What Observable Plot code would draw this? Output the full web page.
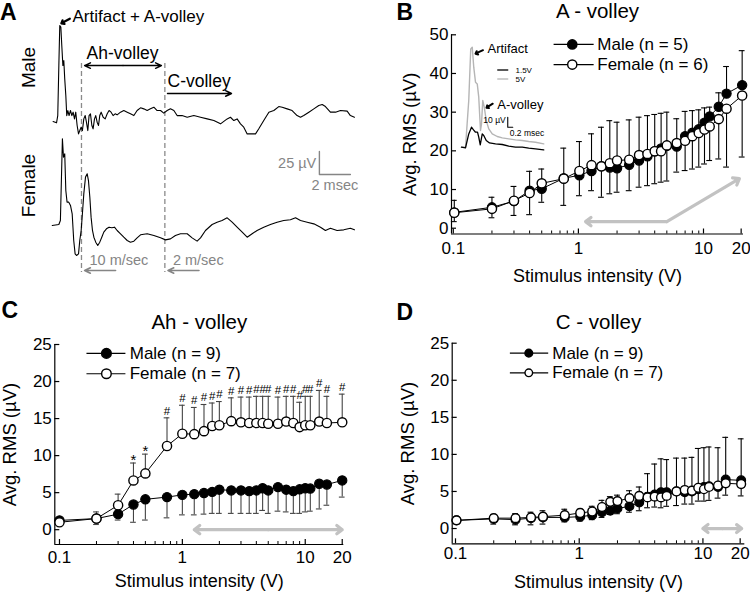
<!DOCTYPE html>
<html><head><meta charset="utf-8">
<script src="https://cdn.jsdelivr.net/npm/d3@7"></script>
<script src="https://cdn.jsdelivr.net/npm/@observablehq/plot@0.6"></script>
<style>
body{margin:0;background:#fff;}
#fig{position:relative;width:750px;height:592px;overflow:hidden;background:#fff;}
</style></head>
<body><div id="fig"></div>
<script>
// ---------------- DATA ----------------
const intensity = [0.1,0.2,0.3,0.4,0.5,0.75,1,1.25,1.5,1.75,2,2.5,3,3.5,4,4.5,5,6,7,8,9,10,11,13,15,20];
const xMajorTicks = [0.1, 1, 10, 20];
const xMinorTicks = [0.2,0.3,0.4,0.5,0.6,0.7,0.8,0.9,2,3,4,5,6,7,8,9];
const yTicksA = [0,10,20,30,40,50];
const yTicksAhC = [0,5,10,15,20,25];

// B: A-volley
const aMale     = [4.1,5.4,7.0,9.7,10.2,12.9,13.7,14.8,16.0,15.7,15.5,16.4,17.5,18.6,19.9,20.6,21.3,21.1,23.8,24.7,25.6,27.3,28.9,31.4,34.8,37.0];
const aMaleSD   = [3.1,2.6,3.8,5.0,5.1,7.8,8.7,9.6,10.1,12.1,11.9,11.6,11.2,10.5,9.5,9.1,8.7,7.2,6.4,5.7,5.0,3.8,2.4,3.6,7.0,8.9];
const aFemale   = [4.0,5.0,7.1,9.1,11.6,12.8,14.8,16.3,16.0,16.8,17.5,17.7,18.9,19.2,19.9,19.9,21.4,22.0,22.6,23.8,24.6,25.5,26.3,28.2,30.9,34.3];
const aFemaleSD = [2.3,2.3,3.8,5.6,4.9,6.9,6.4,6.6,8.0,7.9,8.2,8.0,8.3,8.2,8.4,8.0,9.2,7.5,7.7,8.5,8.8,8.9,8.8,10.3,15.1,15.9];

// C: Ah-volley
const ahMale     = [1.25,1.5,2.1,3.4,4.1,4.4,4.7,4.8,4.95,5.1,5.4,5.3,5.3,5.2,5.3,5.6,5.3,5.75,5.4,5.2,5.45,5.6,5.55,6.2,6.1,6.65];
const ahMaleSD   = [0.35,0.8,0.8,2.4,2.8,2.8,2.7,2.8,2.85,2.9,3.2,3.1,3.1,3.0,3.1,3.0,3.1,3.25,3.0,3.0,3.25,3.2,3.05,3.4,2.8,2.25];
const ahFemale   = [1.0,1.5,3.3,6.65,7.6,11.3,12.95,12.9,13.3,14.0,14.1,14.65,14.5,14.4,14.4,14.4,14.3,14.3,14.6,14.4,13.85,14.1,14.1,14.6,14.4,14.5];
const ahFemaleSD = [0.4,0.9,1.5,2.35,2.6,3.8,3.85,3.6,3.6,3.1,3.2,3.15,3.4,3.5,3.6,3.6,3.7,3.6,3.4,3.6,3.35,3.9,3.9,4.2,3.6,3.8];
const ahSignif   = ["","","","*","*","#","#","#","#","#","#","#","#","#","#","#","#","#","#","#","#","#","#","#","#","#"];

// D: C-volley
const cMale     = [1.1,1.3,1.2,1.4,1.5,1.5,1.6,1.8,2.2,2.4,2.7,3.0,3.5,4.3,4.6,4.9,4.9,5.0,4.9,5.0,5.3,5.6,5.7,5.6,6.6,6.5];
const cMaleSD   = [0.2,0.6,0.8,0.8,0.9,1.1,1.0,1.2,1.6,1.9,1.8,2.1,2.1,3.1,4.1,4.5,4.4,4.5,4.6,4.6,5.5,5.3,5.3,5.3,5.7,5.6];
const cFemale   = [1.1,1.4,1.4,1.5,1.6,1.8,2.1,2.3,2.9,3.6,3.7,4.1,4.4,4.2,4.3,4.2,4.4,5.0,5.2,5.1,5.5,5.3,5.6,5.8,6.1,6.0];
const cFemaleSD = [0.2,0.8,0.9,1.0,1.0,0.9,1.1,1.1,1.4,1.7,1.7,1.9,2.0,1.4,1.4,1.4,1.4,1.9,1.9,1.8,1.8,1.6,1.8,1.7,1.6,1.6];

// A: compound action potential traces [time (ms), voltage (µV)]
const maleTrace = [[0.02,0.7],[0.24,-0.7],[0.32,7.2],[0.39,61.6],[0.45,105.1],[0.52,103.3],[0.58,83.3],[0.65,61.6],[0.71,67.0],[0.77,47.1],[0.84,29.0],[0.90,7.2],[0.97,12.7],[1.05,7.2],[1.14,12.7],[1.23,7.2],[1.31,10.9],[1.40,3.6],[1.48,10.9],[1.57,-3.6],[1.66,-12.7],[1.74,-9.1],[1.83,-5.4],[1.91,-9.1],[2.00,3.6],[2.09,7.2],[2.17,0],[2.26,-9.1],[2.34,7.2],[2.43,9.1],[2.52,-3.6],[2.60,-7.2],[2.69,3.6],[2.77,7.2],[2.86,0],[2.95,-3.6],[3.03,7.2],[3.12,10.9],[3.25,5.4],[3.38,3.6],[3.51,9.1],[3.63,12.7],[3.76,10.9],[3.89,7.2],[4.02,9.1],[4.15,8.0],[4.37,10.9],[4.58,12.7],[4.80,10.9],[5.01,9.1],[5.23,7.2],[5.44,12.7],[5.66,15.6],[5.87,14.5],[6.09,12.7],[6.30,14.5],[6.52,16.3],[6.73,12.7],[6.95,12.7],[7.16,9.8],[7.38,12.7],[7.59,14.5],[7.81,12.7],[8.02,7.2],[8.34,7.2],[8.67,5.4],[9.10,7.2],[9.53,5.4],[9.96,3.6],[10.39,1.8],[10.82,-1.8],[11.25,3.6],[11.46,5.4],[11.68,1.8],[11.89,3.6],[12.11,-1.8],[12.32,-5.4],[12.54,-12.7],[12.86,-12.7],[13.08,-12.7],[13.29,-7.2],[13.61,1.8],[13.94,10.9],[14.26,12.7],[14.58,17.0],[14.80,16.3],[15.12,14.5],[15.44,12.7],[15.76,7.2],[15.98,5.4],[16.19,7.2],[16.52,10.9],[16.84,14.5],[17.16,18.1],[17.38,19.2],[17.59,17.0],[17.91,10.9],[18.24,10.9],[18.56,12.7],[18.99,12.0],[19.20,7.2],[19.46,5.4]];
const femaleTrace = [[-0.04,0.7],[0.39,1.8],[0.49,6.2],[0.62,94.9],[0.69,75.0],[0.77,78.6],[0.84,38.8],[0.92,26.1],[1.03,26.1],[1.14,22.5],[1.25,13.4],[1.35,-15.6],[1.44,-30.1],[1.53,-31.9],[1.66,-30.1],[1.74,-15.6],[1.83,-4.7],[1.91,13.4],[2.00,35.1],[2.11,53.3],[2.22,56.9],[2.30,49.6],[2.39,31.5],[2.47,9.8],[2.56,-4.7],[2.65,-12.0],[2.77,-17.4],[2.90,-21.0],[3.03,-17.4],[3.16,-12.0],[3.29,-6.5],[3.46,-2.9],[3.63,-1.1],[3.81,-1.8],[3.98,-1.1],[4.15,-4.7],[4.37,-8.3],[4.58,-12.0],[4.80,-15.6],[5.01,-17.4],[5.23,-16.3],[5.44,-12.7],[5.66,-9.4],[6.09,-8.3],[6.52,-10.1],[6.95,-12.7],[7.27,-14.9],[7.59,-13.8],[7.91,-10.1],[8.24,-8.3],[8.67,-8.3],[8.99,-12.7],[9.31,-16.3],[9.53,-12.7],[9.85,-4.7],[10.28,1.8],[10.60,4.3],[10.92,6.2],[11.25,9.1],[11.57,4.3],[11.89,-1.1],[12.22,-6.5],[12.54,-12.0],[12.86,-8.3],[13.18,-4.7],[13.61,-1.1],[14.04,1.8],[14.47,4.3],[14.90,6.2],[15.33,6.9],[15.66,9.1],[15.98,6.2],[16.41,4.3],[16.84,2.5],[17.27,-1.1],[17.59,-4.7],[17.91,-2.2],[18.34,-4.7],[18.77,-4.0],[19.20,-2.2],[19.46,-4.0]];
const cutoffs = [{t: 1.85, label: "10 m/sec"}, {t: 7.23, label: "2 m/sec"}];

// B inset traces [time (ms), voltage (µV)]
const inset5V = [[0,0],[0.16,0],[0.29,46.7],[0.37,98.3],[0.43,100],[0.49,80],[0.56,65],[0.63,63.3],[0.69,50],[0.76,16.7],[0.80,23.3],[0.85,46.7],[0.91,40],[0.99,26.7],[1.09,18.3],[1.23,13.3],[1.43,10.7],[1.63,9.3],[1.89,8.3],[2.16,7.3],[2.43,6.7],[2.69,5.7],[2.96,5],[3.29,3.3]];
const inset15V = [[0,0],[0.16,-0.7],[0.29,13.3],[0.40,20],[0.48,17.3],[0.56,15],[0.64,15],[0.69,10],[0.75,2.3],[0.83,13.3],[0.89,11.7],[0.99,6.7],[1.12,4.3],[1.36,3.3],[1.63,2.7],[1.89,1],[2.16,0],[2.43,0],[2.69,-1],[2.96,-1.7],[3.29,-2.7]];

// ---------------- DRAWING ----------------
const fontFamily = '"Liberation Sans", Arial, Helvetica, sans-serif';
const fig = document.getElementById("fig");
function place(node, left, top) {
  node.style.position = "absolute";
  node.style.left = left + "px";
  node.style.top = top + "px";
  fig.appendChild(node);
}
const GRAY = "#858585";

// Panel A
const femaleShift = -113;
const panelA = Plot.plot({
  width: 375, height: 290, margin: 0,
  x: {domain: [0, 20], range: [52.3, 362.3], axis: null},
  y: {domain: [0, 100], range: [121.7, 29.7], axis: null},
  style: {fontFamily, fontSize: "17px", background: "transparent", overflow: "visible"},
  marks: [
    Plot.ruleX(cutoffs, {x: "t", y1: 63.8, y2: -163.4, stroke: "#8a8a8a", strokeWidth: 1.3, strokeDasharray: "5,3"}),
    Plot.line(maleTrace, {x: d => d[0], y: d => d[1], stroke: "black", strokeWidth: 1.1}),
    Plot.line(femaleTrace, {x: d => d[0], y: d => d[1] + femaleShift, stroke: "black", strokeWidth: 1.1}),
    Plot.text(["Artifact + A-volley"], {x: 1.27, y: 114.9, textAnchor: "start", fontSize: 17}),
    Plot.arrow([0], {x1: 1.1, y1: 112.5, x2: 0.55, y2: 107.5, stroke: "black", strokeWidth: 2.2, headLength: 5, headAngle: 80}),
    Plot.text(["Ah-volley"], {x: 4.5, y: 74.7, fontSize: 17.5}),
    Plot.arrow([4.53], {x1: d => d, y1: 61.6, x2: 2.05, y2: 61.6, stroke: "black", strokeWidth: 1.4, headLength: 7, headAngle: 50}),
    Plot.arrow([4.53], {x1: d => d, y1: 61.6, x2: 7.01, y2: 61.6, stroke: "black", strokeWidth: 1.4, headLength: 7, headAngle: 50}),
    Plot.text(["C-volley"], {x: 7.4, y: 44.2, textAnchor: "start", fontSize: 17.5}),
    Plot.arrow([7.4], {x1: d => d, y1: 31.2, x2: 11.53, y2: 31.2, stroke: "black", strokeWidth: 1.4, headLength: 7, headAngle: 50}),
    // scale bar: 25 µV, 2 msec
    Plot.line([[17.2, -31.8], [17.2, -56.8], [19.2, -56.8]], {x: d => d[0], y: d => d[1], stroke: GRAY, strokeWidth: 1.4}),
    Plot.text(["25 µV"], {x: 17.0, y: -45, textAnchor: "end", fontSize: 14.5, fill: GRAY}),
    Plot.text(["2 msec"], {x: 18.2, y: -69, fontSize: 14.5, fill: GRAY}),
    // conduction-velocity labels
    Plot.text(cutoffs, {x: d => d.t + 0.52, y: -150.3, text: "label", textAnchor: "start", fontSize: 14.5, fill: GRAY}),
    Plot.arrow(cutoffs, {x1: d => d.t + 2.2, y1: -161.2, x2: d => d.t + 0.2, y2: -161.2, stroke: GRAY, strokeWidth: 1.6, headLength: 6, headAngle: 50}),
    Plot.text(["Male"], {x: -1.57, y: 59.5, rotate: -90, fontSize: 19}),
    Plot.text(["Female"], {x: -1.57, y: -68.8, rotate: -90, fontSize: 19})
  ]
});
place(panelA, 0, 0);

// volley panels
function volleyPanel(c) {
  const rows = intensity.map((x, i) => ({
    x, m: c.male[i], f: c.female[i],
    mEnd: c.male[i] + c.maleDir * c.maleSD[i],
    fEnd: c.female[i] + c.femaleDir * c.femaleSD[i],
    sig: c.sig ? c.sig[i] : ""
  }));
  const capF = 1.055;
  const L = c.legend;
  const ink = c.barColor;
  return Plot.plot({
    width: 375, height: c.height,
    marginLeft: c.ml, marginRight: c.mr, marginTop: c.mt, marginBottom: c.mb,
    x: {type: "log", domain: c.xDomain},
    y: {domain: c.yDomain},
    style: {fontFamily, fontSize: "17px", color: "black", background: "transparent", overflow: "visible"},
    marks: [
      Plot.ruleX([c.xDomain[0]], {stroke: "black", strokeWidth: 1.2}),
      Plot.ruleY([c.yDomain[0]], {stroke: "black", strokeWidth: 1.2}),
      Plot.axisY({ticks: c.yTicks, tickSize: -5, tickPadding: 8, label: null, fontSize: 17, strokeWidth: 1.2}),
      Plot.axisX({ticks: xMajorTicks, tickSize: -5, tickPadding: c.xPad, dx: c.xDx || 0, tickFormat: d => String(d), label: null, fontSize: 17, strokeWidth: 1.2}),
      Plot.axisX({ticks: xMinorTicks, tickSize: -3, tickFormat: () => "", label: null}),
      Plot.arrow(c.arrows, {x1: "x1", y1: "y1", x2: "x2", y2: "y2", stroke: "#c2c2c2", strokeWidth: 3.2, headLength: 3.2, headAngle: 75}),
      Plot.ruleX(rows, {x: "x", y1: "m", y2: "mEnd", stroke: ink, strokeWidth: 1.1}),
      Plot.ruleY(rows, {x1: d => d.x / capF, x2: d => d.x * capF, y: "mEnd", stroke: ink, strokeWidth: 1.1}),
      Plot.ruleX(rows, {x: "x", y1: "f", y2: "fEnd", stroke: ink, strokeWidth: 1.1}),
      Plot.ruleY(rows, {x1: d => d.x / capF, x2: d => d.x * capF, y: "fEnd", stroke: ink, strokeWidth: 1.1}),
      Plot.line(rows, {x: "x", y: "m", stroke: "black", strokeWidth: 1}),
      Plot.line(rows, {x: "x", y: "f", stroke: "black", strokeWidth: 1}),
      Plot.dot(rows, {x: "x", y: "m", r: c.r, fill: "black", stroke: "black", strokeWidth: 1.2}),
      Plot.dot(rows, {x: "x", y: "f", r: c.r, fill: "white", stroke: "black", strokeWidth: 1.4}),
      Plot.text(rows.filter(d => d.sig === "#"), {x: "x", y: "fEnd", text: "sig", dy: -7, fontSize: 11.5}),
      Plot.text(rows.filter(d => d.sig === "*"), {x: "x", y: "fEnd", text: "sig", dy: -3, fontSize: 15}),
      // legend
      Plot.link([L.y[0], L.y[1]], {x1: L.x0, x2: L.x1, y1: d => d, y2: d => d, stroke: "black", strokeWidth: 1.2}),
      Plot.dot([L.y[0]], {x: L.xDot, y: d => d, r: L.r, fill: "black", stroke: "black"}),
      Plot.dot([L.y[1]], {x: L.xDot, y: d => d, r: L.r, fill: "white", stroke: "black", strokeWidth: 1.4}),
      Plot.text([c.maleLabel, c.femaleLabel], {x: L.xText, y: (d, i) => L.y[i], text: d => d, textAnchor: "start", fontSize: 17}),
      // titles
      Plot.text([c.title], {frameAnchor: "top", dy: c.titleDy, lineAnchor: "middle", textAnchor: "middle", fontSize: 20.5}),
      Plot.text(["Stimulus intensity (V)"], {frameAnchor: "bottom", dy: c.xLabelDy, lineAnchor: "middle", textAnchor: "middle", fontSize: 18}),
      Plot.text(["Avg. RMS (µV)"], {frameAnchor: "left", dx: c.yLabelDx, rotate: -90, lineAnchor: "middle", textAnchor: "middle", fontSize: 18.5})
    ]
  });
}

const panelB = volleyPanel({
  male: aMale, maleSD: aMaleSD, female: aFemale, femaleSD: aFemaleSD, maleDir: 1, femaleDir: -1,
  height: 290, ml: 76, mr: 7, mt: 34.3, mb: 56.5,
  xDomain: [0.095, 20.5], yDomain: [-1.5, 50], yTicks: yTicksA, xPad: 13, xDx: -1,
  r: 4.6, barColor: "black",
  arrows: [{x1: 5, y1: 1.7, x2: 1.12, y2: 1.7}, {x1: 5, y1: 1.7, x2: 19, y2: 12.8}],
  legend: {x0: 0.622, x1: 1.30, xDot: 0.877, xText: 1.39, y: [47.5, 42.3], r: 4.6},
  maleLabel: "Male (n = 5)", femaleLabel: "Female (n = 6)",
  title: "A - volley", titleDy: -23.5, xLabelDy: 42.5, yLabelDx: -41
});
place(panelB, 375, 0);

const panelC = volleyPanel({
  male: ahMale, maleSD: ahMaleSD, female: ahFemale, femaleSD: ahFemaleSD, maleDir: -1, femaleDir: 1, sig: ahSignif,
  height: 302, ml: 54.3, mr: 31.7, mt: 54, mb: 48,
  xDomain: [0.0916, 20.6], yDomain: [-2, 25], yTicks: yTicksAhC, xPad: 11,
  r: 4.6, barColor: "#444",
  arrows: [{x1: 5, y1: 0, x2: 1.25, y2: 0}, {x1: 5, y1: 0, x2: 20, y2: 0}],
  legend: {x0: 0.1658, x1: 0.344, xDot: 0.241, xText: 0.373, y: [23.8, 21.05], r: 4.8},
  maleLabel: "Male (n = 9)", femaleLabel: "Female (n = 7)",
  title: "Ah - volley", titleDy: -22.3, xLabelDy: 37, yLabelDx: -45
});
place(panelC, 0, 290);

const panelD = volleyPanel({
  male: cMale, maleSD: cMaleSD, female: cFemale, femaleSD: cFemaleSD, maleDir: 1, femaleDir: -1,
  height: 302, ml: 76.7, mr: 5.7, mt: 52.7, mb: 48.7,
  xDomain: [0.0923, 21.4], yDomain: [-2.06, 25], yTicks: yTicksAhC, xPad: 8, xDx: -1,
  r: 4.4, barColor: "black",
  arrows: [{x1: 14.1, y1: 0, x2: 9.8, y2: 0}, {x1: 14.1, y1: 0, x2: 20.2, y2: 0}],
  legend: {x0: 0.27, x1: 0.551, xDot: 0.384, xText: 0.594, y: [23.66, 21.0], r: 3.8},
  maleLabel: "Male (n = 9)", femaleLabel: "Female (n = 7)",
  title: "C - volley", titleDy: -21, xLabelDy: 38, yLabelDx: -44
});
place(panelD, 375, 290);

// B inset
const inset = Plot.plot({
  width: 95, height: 110, margin: 0,
  x: {domain: [0, 3.3], range: [6, 88.5], axis: null},
  y: {domain: [0, 100], range: [106.7, 6.7], axis: null},
  style: {fontFamily, background: "transparent", overflow: "visible"},
  marks: [
    Plot.line(inset5V, {x: d => d[0], y: d => d[1], stroke: "#b5b5b5", strokeWidth: 1.4}),
    Plot.line(inset15V, {x: d => d[0], y: d => d[1], stroke: "black", strokeWidth: 1.3}),
    Plot.text(["Artifact"], {x: 1.04, y: 98.7, textAnchor: "start", fontSize: 13}),
    Plot.arrow([0], {x1: 0.86, y1: 97, x2: 0.56, y2: 93.5, stroke: "black", strokeWidth: 2, headLength: 4, headAngle: 80}),
    Plot.text(["A-volley"], {x: 1.43, y: 42.2, textAnchor: "start", fontSize: 13}),
    Plot.arrow([0], {x1: 1.25, y1: 43.5, x2: 1.0, y2: 39.5, stroke: "black", strokeWidth: 2, headLength: 4, headAngle: 80}),
    Plot.link([77.2], {x1: 1.43, x2: 1.87, y1: d => d, y2: d => d, stroke: "black", strokeWidth: 1.3}),
    Plot.link([68.2], {x1: 1.43, x2: 1.87, y1: d => d, y2: d => d, stroke: "#b5b5b5", strokeWidth: 1.3}),
    Plot.text(["1.5V", "5V"], {x: 2.16, y: (d, i) => [77.2, 68.2][i], text: d => d, textAnchor: "start", fontSize: 8}),
    Plot.line([[1.85, 30], [1.85, 20], [2.05, 20]], {x: d => d[0], y: d => d[1], stroke: "black", strokeWidth: 1.1}),
    Plot.text(["10 µV"], {x: 1.77, y: 27, textAnchor: "end", fontSize: 8.5}),
    Plot.text(["0.2 msec"], {x: 1.93, y: 14.4, textAnchor: "start", fontSize: 8.5})
  ]
});
place(inset, 455, 40);

// panel letters
const letters = d3.create("svg").attr("width", 750).attr("height", 592)
  .style("position", "absolute").style("left", "0px").style("top", "0px").style("pointer-events", "none");
[["A", 0, 19.5], ["B", 396.5, 19.5], ["C", 1.5, 318], ["D", 396.5, 320]].forEach(([t, x, y]) => {
  letters.append("text").attr("x", x).attr("y", y).attr("font-family", fontFamily)
    .attr("font-weight", "bold").attr("font-size", 23).text(t);
});
fig.appendChild(letters.node());
</script>
</body></html>
